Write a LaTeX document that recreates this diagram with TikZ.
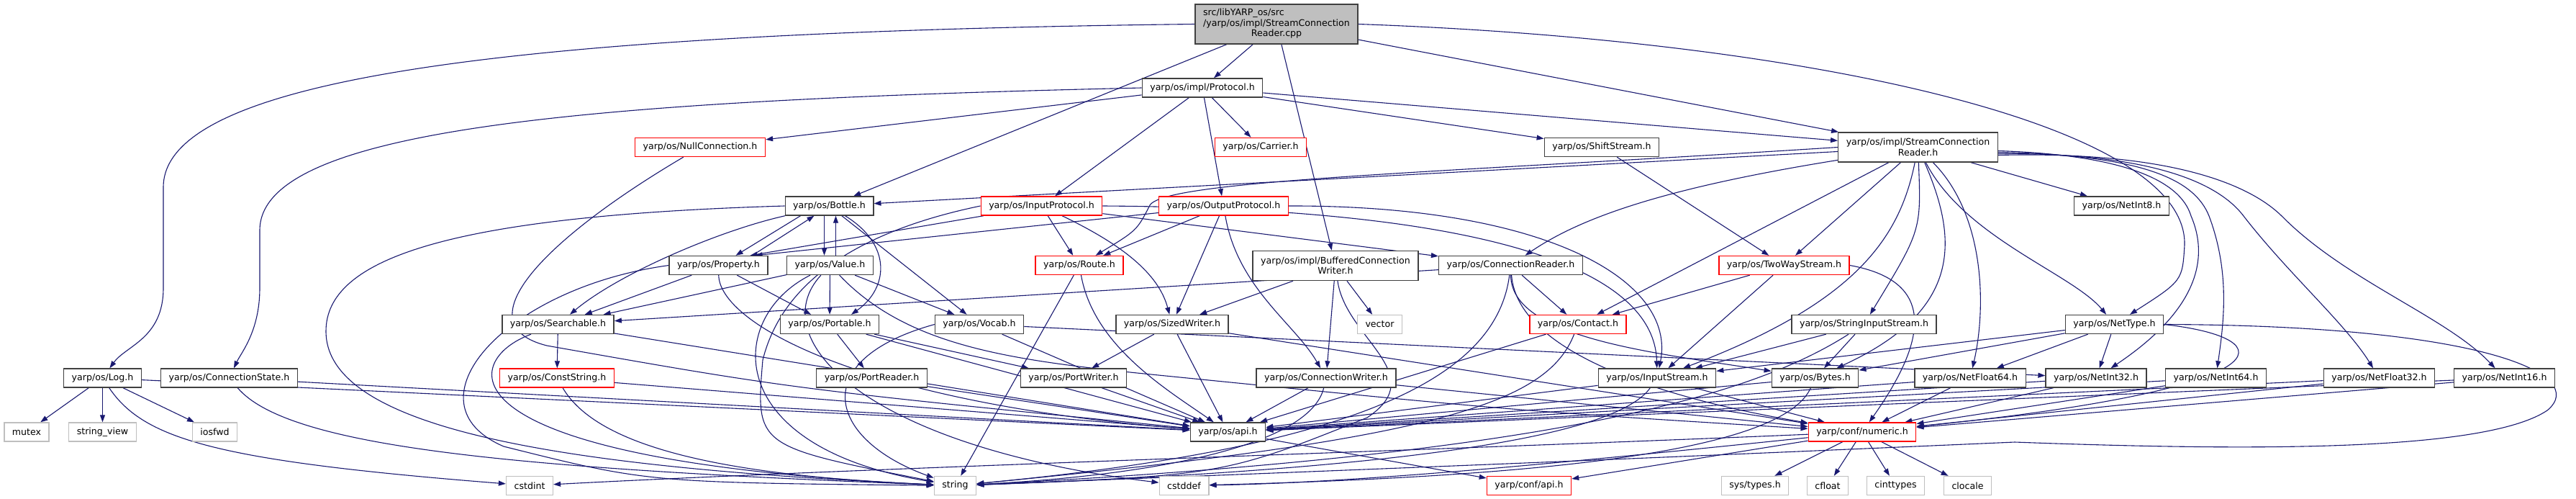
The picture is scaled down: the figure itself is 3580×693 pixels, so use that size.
\documentclass[tikz,border=0pt]{standalone}
\usepackage{fontspec}
\setmainfont{DejaVu Sans}
\usetikzlibrary{arrows.meta,backgrounds}
\definecolor{edgeblue}{HTML}{191970}
\definecolor{boxgray}{HTML}{BFBFBF}
\definecolor{boxline}{HTML}{404040}
\tikzset{
  hdr/.style={draw=boxline, fill=white, line width=1.4pt, inner xsep=11pt, inner ysep=4pt,
    minimum height=26pt, font=\fontsize{12.6}{14.5}\selectfont},
  hdrmore/.style={hdr, draw=red},
  hdrsys/.style={hdr, draw=boxgray},
  hdrroot/.style={hdr, fill=boxgray, minimum height=55pt},
  dep/.style={draw=edgeblue, line width=1.1pt, -{Triangle[length=10pt,width=7pt]}}
}

\begin{document}
\begin{tikzpicture}[x=1pt,y=-1pt]
    \useasboundingbox (0,0) rectangle (3580,693);
    % files
    \node[hdrroot] (root) at (1774,33.5) {\begin{tabular}{@{}l@{}}src/libYARP\_os/src\\/yarp/os/impl/StreamConnection\\\multicolumn{1}{@{}c@{}}{Reader.cpp}\end{tabular}};
    \node[hdr] (proto) at (1671,122) {yarp/os/impl/Protocol.h};
    \node[hdrmore] (nullconn) at (973,204.5) {yarp/os/NullConnection.h};
    \node[hdrmore] (carrier) at (1752,204.5) {yarp/os/Carrier.h};
    \node[hdr] (shift) at (2226,204.5) {yarp/os/ShiftStream.h};
    \node[hdr, align=center, minimum height=41pt] (scr) at (2665.5,204.5) {yarp/os/impl/StreamConnection\\Reader.h};
    \node[hdr] (bottle) at (1152.5,286) {yarp/os/Bottle.h};
    \node[hdrmore] (inproto) at (1447.5,286) {yarp/os/InputProtocol.h};
    \node[hdrmore] (outproto) at (1700.5,286) {yarp/os/OutputProtocol.h};
    \node[hdr] (netint8) at (2948.5,286) {yarp/os/NetInt8.h};
    \node[hdr] (property) at (998.5,368.5) {yarp/os/Property.h};
    \node[hdr] (value) at (1153.5,368.5) {yarp/os/Value.h};
    \node[hdrmore] (route) at (1500,368.5) {yarp/os/Route.h};
    \node[hdr, align=center, minimum height=41pt] (bcw) at (1856,369) {yarp/os/impl/BufferedConnection\\Writer.h};
    \node[hdr] (connreader) at (2099.5,368.5) {yarp/os/ConnectionReader.h};
    \node[hdrmore] (twoway) at (2479.5,368.5) {yarp/os/TwoWayStream.h};
    \node[hdr] (searchable) at (775.5,450.5) {yarp/os/Searchable.h};
    \node[hdr] (portable) at (1153,450.5) {yarp/os/Portable.h};
    \node[hdr] (vocab) at (1361,450.5) {yarp/os/Vocab.h};
    \node[hdr] (sized) at (1629,450.5) {yarp/os/SizedWriter.h};
    \node[hdrsys] (vector) at (1917.5,450.5) {vector};
    \node[hdrmore] (contact) at (2193,450.5) {yarp/os/Contact.h};
    \node[hdr] (sis) at (2590.5,450.5) {yarp/os/StringInputStream.h};
    \node[hdr] (nettype) at (2938.5,450.5) {yarp/os/NetType.h};
    \node[hdr] (log) at (142.5,525) {yarp/os/Log.h};
    \node[hdr] (cstate) at (318.5,525) {yarp/os/ConnectionState.h};
    \node[hdrmore] (conststr) at (774,525) {yarp/os/ConstString.h};
    \node[hdr] (portreader) at (1211.5,525) {yarp/os/PortReader.h};
    \node[hdr] (portwriter) at (1492,525) {yarp/os/PortWriter.h};
    \node[hdr] (connwriter) at (1843,525) {yarp/os/ConnectionWriter.h};
    \node[hdr] (instream) at (2303,525) {yarp/os/InputStream.h};
    \node[hdr] (bytes) at (2522.5,525) {yarp/os/Bytes.h};
    \node[hdr] (netf64) at (2738,525) {yarp/os/NetFloat64.h};
    \node[hdr] (neti32) at (2913,525) {yarp/os/NetInt32.h};
    \node[hdr] (neti64) at (3079.5,525) {yarp/os/NetInt64.h};
    \node[hdr] (netf32) at (3306.5,525) {yarp/os/NetFloat32.h};
    \node[hdr] (neti16) at (3480.5,525) {yarp/os/NetInt16.h};
    \node[hdrsys] (mutex) at (37,600) {mutex};
    \node[hdrsys] (strview) at (142.5,600) {string\_view};
    \node[hdrsys] (iosfwd) at (298.5,600) {iosfwd};
    \node[hdr] (api) at (1706.5,600) {yarp/os/api.h};
    \node[hdrmore] (numeric) at (2588,600) {yarp/conf/numeric.h};
    \node[hdrsys] (cstdint) at (736,674.5) {cstdint};
    \node[hdrsys] (string) at (1327.5,674.5) {string};
    \node[hdrsys] (cstddef) at (1645.5,674.5) {cstddef};
    \node[hdrmore] (confapi) at (2125,674.5) {yarp/conf/api.h};
    \node[hdrsys] (systypes) at (2439,674.5) {sys/types.h};
    \node[hdrsys] (cfloat) at (2540,674.5) {cfloat};
    \node[hdrsys] (cinttypes) at (2634.5,674.5) {cinttypes};
    \node[hdrsys] (clocale) at (2734.5,674.5) {clocale};

    \begin{scope}[on background layer]
    % includes of the source file
    \draw[dep] (root.west) .. controls (700,45) and (227,110) .. (227,260) -- (227,400) .. controls (227,470) and (175,480) .. (log);
    \draw[dep] (root) -- (proto);
    \draw[dep] (root) -- (bottle);
    \draw[dep] (root) -- (bcw);
    \draw[dep] (root) -- (scr);
    \draw[dep] (root.east) .. controls (2500,55) and (3040,170) .. (3036,340) .. controls (3033,390) .. (nettype);
    % Protocol.h
    \draw[dep] (proto.west) .. controls (800,140) and (361,180) .. (361,320) -- (361,400) .. controls (361,460) and (335,490) .. (cstate);
    \draw[dep] (proto) -- (nullconn);
    \draw[dep] (proto) -- (inproto);
    \draw[dep] (proto) -- (outproto);
    \draw[dep] (proto) -- (carrier);
    \draw[dep] (proto) -- (shift);
    \draw[dep] (proto) -- (scr);
    \draw[dep] (shift) -- (twoway);
    \draw[dep] (nullconn) .. controls (760,330) and (640,450) .. (760,480) .. controls (1100,540) .. (api);
    % Bottle.h
    \draw[dep] ([xshift=-40pt]bottle.south) -- ([xshift=24pt]property.north);
    \draw[dep] ([xshift=47pt]property.north) -- ([xshift=-21pt]bottle.south);
    \draw[dep] ([xshift=-7pt]bottle.south) -- ([xshift=-8pt]value.north);
    \draw[dep] ([xshift=8pt]value.north) -- ([xshift=9pt]bottle.south);
    \draw[dep] ([xshift=22pt]bottle.south) .. controls (1240,340) and (1235,400) .. ([xshift=30pt]portable.north);
    \draw[dep] (bottle) -- (vocab);
    \draw[dep] (bottle) .. controls (1000,320) and (860,380) .. (searchable);
    \draw[dep] (bottle.west) .. controls (620,300) and (453,360) .. (453,460) .. controls (453,600) and (800,650) .. (string);
    % Property.h, Value.h
    \draw[dep] (property) -- (searchable);
    \draw[dep] (property) -- (portable);
    \draw[dep] (property.west) .. controls (700,400) and (560,560) .. (700,620) .. controls (900,670) .. (string);
    \draw[dep] (property) .. controls (1000,450) and (1200,560) .. (api);
    \draw[dep] (value) -- (searchable);
    \draw[dep] (value) -- (portable);
    \draw[dep] (value) -- (vocab);
    \draw[dep] (value) .. controls (1010,440) and (1000,620) .. (string);
    \draw[dep] (value) .. controls (1060,470) and (1200,620) .. (cstddef);
    \draw[dep] (value) .. controls (1260,480) and (1400,500) .. (1600,520) .. controls (2100,570) .. (numeric);
    % Portable.h, Vocab.h, Searchable.h
    \draw[dep] (portable) -- (portreader);
    \draw[dep] (portable) -- (portwriter);
    \draw[dep] (portable) -- (api);
    \draw[dep] (vocab.west) .. controls (1120,500) and (1150,610) .. (string);
    \draw[dep] (vocab) -- (neti32);
    \draw[dep] (vocab) -- (api);
    \draw[dep] (searchable) -- (conststr);
    \draw[dep] (searchable) -- (api);
    \draw[dep] (searchable) .. controls (640,500) and (600,640) .. (string);
    \draw[dep] (conststr) .. controls (830,620) and (1000,660) .. (string);
    \draw[dep] (conststr) -- (api);
    % ConnectionState.h, Log.h
    \draw[dep] (cstate) -- (api);
    \draw[dep] (cstate) .. controls (400,620) and (700,650) .. (string);
    \draw[dep] (log) -- (mutex);
    \draw[dep] (log) -- (strview);
    \draw[dep] (log) -- (iosfwd);
    \draw[dep] (log) .. controls (200,610) and (300,640) .. (cstdint);
    \draw[dep] (log) -- (api);
    % InputProtocol.h, OutputProtocol.h
    \draw[dep] (inproto) -- ([xshift=-25pt]property.north east);
    \draw[dep] (inproto) -- (route);
    \draw[dep] (inproto) .. controls (1560,340) and (1610,380) .. (sized);
    \draw[dep] (inproto) -- (connreader);
    \draw[dep] (inproto.east) .. controls (2150,290) and (2300,400) .. (instream);
    \draw[dep] (inproto.west) .. controls (1150,330) and (1080,420) .. (1060,500) .. controls (1050,620) .. (string);
    \draw[dep] (outproto) -- ([xshift=-18pt]property.north east);
    \draw[dep] (outproto) -- (route);
    \draw[dep] (outproto) -- (sized);
    \draw[dep] (outproto) .. controls (1720,400) and (1800,450) .. (connwriter);
    \draw[dep] (outproto.east) .. controls (2150,285) and (2330,390) .. (instream);
    % writers and readers
    \draw[dep] (sized) -- (portwriter);
    \draw[dep] (sized) -- (api);
    \draw[dep] (sized) -- (numeric);
    \draw[dep] (portreader) -- (api);
    \draw[dep] (portwriter) -- (api);
    \draw[dep] (route) -- (string);
    \draw[dep] (route) .. controls (1520,480) and (1620,540) .. (api);
    \draw[dep] (bcw) -- (sized);
    \draw[dep] (bcw) -- (connwriter);
    \draw[dep] (bcw) -- (vector);
    \draw[dep] (bcw) .. controls (1870,470) and (1990,520) .. (1900,580) .. controls (1700,660) .. (string);
    \draw[dep] (connwriter) -- (api);
    \draw[dep] (connwriter) -- (numeric);
    \draw[dep] (connwriter) .. controls (1820,620) and (1600,660) .. (string);
    % ConnectionReader.h, TwoWayStream.h, Contact.h
    \draw[dep] (connreader) -- (searchable);
    \draw[dep] (connreader) -- (contact);
    \draw[dep] (connreader) .. controls (2100,470) and (2300,490) .. (bytes);
    \draw[dep] (connreader) .. controls (2080,520) and (1900,620) .. (string);
    \draw[dep] (connreader) .. controls (2110,500) and (2350,560) .. (numeric);
    \draw[dep] (twoway) -- (contact);
    \draw[dep] (twoway) -- (instream);
    \draw[dep] (twoway.east) .. controls (2690,390) and (2680,470) .. (numeric);
    \draw[dep] (contact) .. controls (2150,560) and (2000,610) .. (string);
    \draw[dep] (contact) -- (api);
    % streams
    \draw[dep] (sis) -- (instream);
    \draw[dep] (sis) -- (bytes);
    \draw[dep] (sis) .. controls (2450,540) and (2200,630) .. (string);
    \draw[dep] (instream) -- (numeric);
    \draw[dep] (instream) -- (api);
    \draw[dep] (instream) .. controls (2250,600) and (2000,650) .. (string);
    \draw[dep] (bytes) -- (api);
    \draw[dep] (bytes) .. controls (2480,620) and (2200,660) .. (cstddef);
    % NetType.h and the net types
    \draw[dep] (nettype) -- (bytes);
    \draw[dep] (nettype) -- (instream);
    \draw[dep] (nettype) -- (netf64);
    \draw[dep] (nettype) -- (neti32);
    \draw[dep] (nettype.east) .. controls (3180,470) and (3180,540) .. (numeric);
    \draw[dep] (nettype.east) .. controls (3450,452) and (3600,520) .. (3540,570) .. controls (3450,630) and (3100,625) .. (2800,614) .. controls (2200,640) .. (string);
    \foreach \nt in {netf64,neti32,neti64,netf32,neti16} {
        \draw[dep] (\nt) -- (numeric);
        \draw[dep] (\nt) -- (api);
    }
    % StreamConnectionReader.h
    \draw[dep] (scr) -- (bottle);
    \draw[dep] (scr.west) .. controls (2000,240) and (1620,250) .. (1598,285) .. controls (1580,320) .. (route);
    \draw[dep] (scr) .. controls (2320,260) and (2200,300) .. (connreader);
    \draw[dep] (scr) -- (contact);
    \draw[dep] (scr) -- (twoway);
    \draw[dep] (scr) .. controls (2640,330) and (2580,420) .. (instream);
    \draw[dep] (scr) .. controls (2670,320) .. (sis);
    \draw[dep] (scr) .. controls (2730,330) and (2880,380) .. (nettype);
    \draw[dep] (scr) -- (netint8);
    \draw[dep] (scr) .. controls (2720,330) and (2730,430) .. (bytes);
    \draw[dep] (scr) .. controls (2760,300) and (2760,430) .. (netf64);
    \draw[dep] ([yshift=-5pt]scr.east) .. controls (2950,215) and (3030,250) .. (3045,300) .. controls (3075,370) and (3040,440) .. (neti32);
    \draw[dep] ([yshift=-7pt]scr.east) .. controls (2980,215) and (3050,250) .. (3070,300) .. controls (3100,380) and (3090,450) .. (neti64);
    \draw[dep] ([yshift=-9pt]scr.east) .. controls (2980,212) and (3080,250) .. (3118,300) .. controls (3180,380) and (3260,450) .. (netf32);
    \draw[dep] ([yshift=-11pt]scr.east) .. controls (3000,210) and (3120,250) .. (3171,300) .. controls (3260,390) and (3400,440) .. (neti16);
    % api.h, numeric.h
    \draw[dep] (api) -- (confapi);
    \draw[dep] (numeric) -- (systypes);
    \draw[dep] (numeric) -- (cfloat);
    \draw[dep] (numeric) -- (cinttypes);
    \draw[dep] (numeric) -- (clocale);
    \draw[dep] (numeric) -- (confapi);
    \draw[dep] (numeric) .. controls (2200,640) and (1900,670) .. (cstddef);
    \draw[dep] (numeric) .. controls (2000,625) and (1200,650) .. (cstdint);
    \end{scope}
\end{tikzpicture}
\end{document}
